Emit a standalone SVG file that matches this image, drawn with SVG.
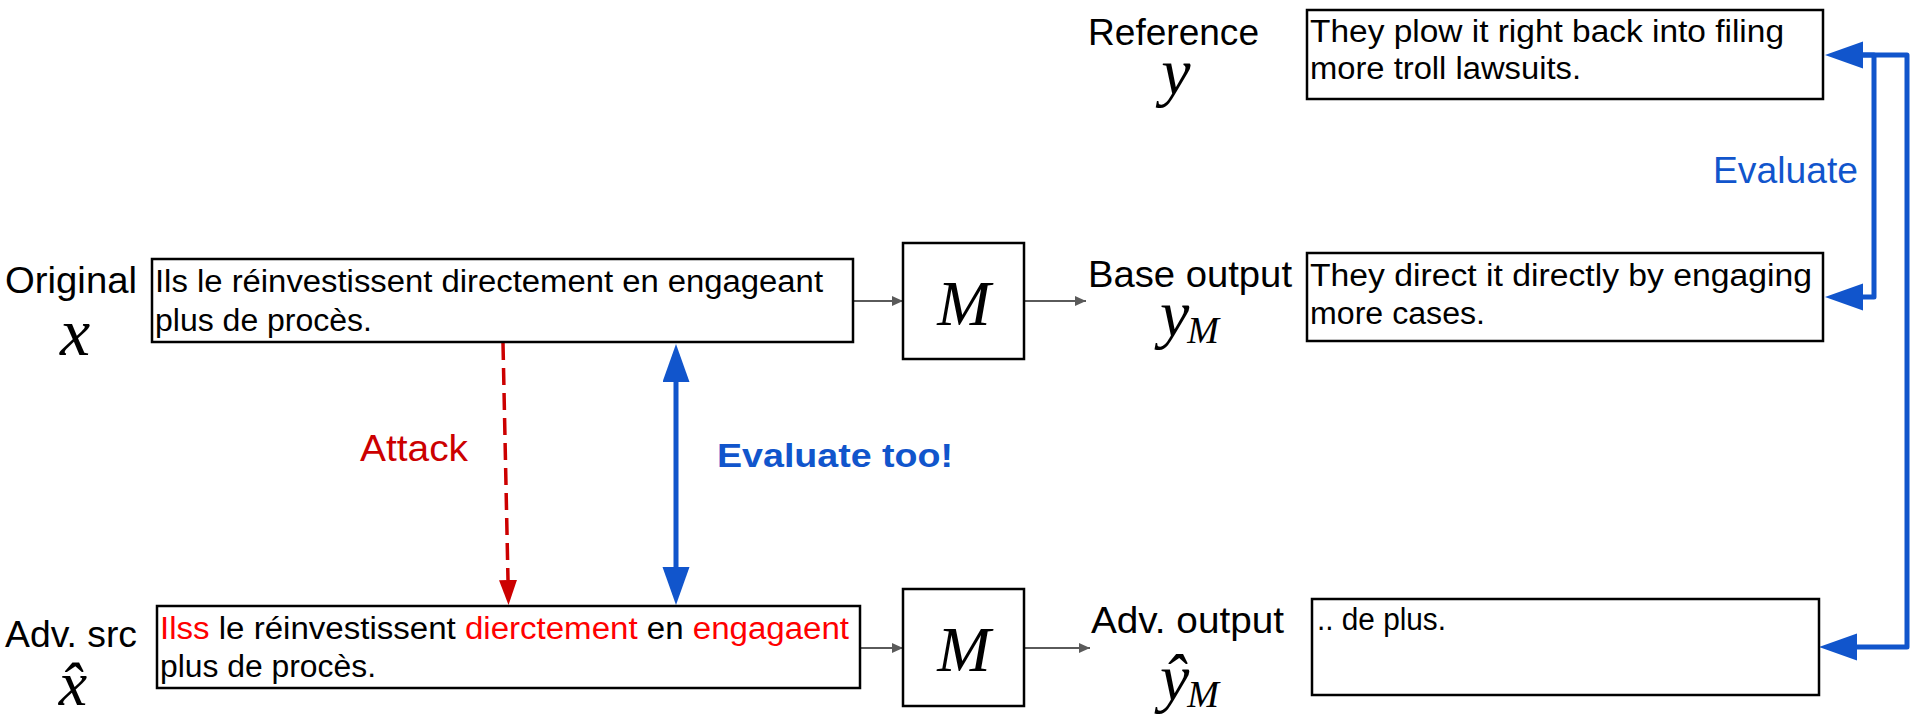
<svg xmlns="http://www.w3.org/2000/svg" width="1913" height="722" viewBox="0 0 1913 722">
<style>
.box{fill:#fff;stroke:#000;stroke-width:2.5}
.lbl{font-family:"Liberation Sans",Arial,sans-serif;font-size:37px;fill:#000}
.txt{font-family:"Liberation Sans",Arial,sans-serif;font-size:31px;fill:#000}
.red{fill:#ff0000}
.math{font-family:"Liberation Serif","Times New Roman",serif;font-style:italic;fill:#000}
.grey{stroke:#5a5a5a;stroke-width:2;fill:none}
.blue{stroke:#1155cc;stroke-width:5;fill:none;stroke-linejoin:round}
</style>
<defs>
<marker id="ag" markerUnits="userSpaceOnUse" markerWidth="12" markerHeight="10" refX="11" refY="5" orient="auto"><path d="M0,0 L11,5 L0,10 z" fill="#5a5a5a"/></marker>
<marker id="ab" markerUnits="userSpaceOnUse" markerWidth="40" markerHeight="28" refX="0" refY="13.5" orient="auto-start-reverse"><path d="M0,0 L38,13.5 L0,27 z" fill="#1155cc"/></marker>
<marker id="ar" markerUnits="userSpaceOnUse" markerWidth="26" markerHeight="20" refX="0" refY="9" orient="auto"><path d="M0,0 L25,9 L0,18 z" fill="#cc0000"/></marker>
</defs>
<rect width="1913" height="722" fill="#fff"/>

<g id="connectors">
<line class="grey" x1="854" y1="301" x2="903" y2="301" marker-end="url(#ag)"/>
<line class="grey" x1="1025" y1="301" x2="1086" y2="301" marker-end="url(#ag)"/>
<line class="grey" x1="861" y1="648" x2="903" y2="648" marker-end="url(#ag)"/>
<line class="grey" x1="1025" y1="648" x2="1090" y2="648" marker-end="url(#ag)"/>
<line x1="503" y1="343" x2="508" y2="580" stroke="#cc0000" stroke-width="3.5" stroke-dasharray="17 8" marker-end="url(#ar)"/>
<line class="blue" x1="676" y1="382" x2="676" y2="567" marker-start="url(#ab)" marker-end="url(#ab)"/>
<path class="blue" d="M1863,55 H1874 V297 H1863" marker-start="url(#ab)" marker-end="url(#ab)"/>
<path class="blue" d="M1863,55 H1907 V647 H1857" marker-end="url(#ab)"/>
</g>

<g id="original">
<text class="lbl" x="5" y="293" textLength="132" lengthAdjust="spacingAndGlyphs">Original</text>
<text class="math" x="75" y="355" font-size="68" text-anchor="middle">x</text>
</g>
<g id="src-box">
<rect class="box" x="152" y="259" width="701" height="83"/>
<text class="txt" x="155" y="292" textLength="668" lengthAdjust="spacingAndGlyphs">Ils le réinvestissent directement en engageant</text>
<text class="txt" x="155" y="331" textLength="217" lengthAdjust="spacingAndGlyphs">plus de procès.</text>
</g>
<g id="model-top">
<rect class="box" x="903" y="243" width="121" height="116"/>
<text class="math" x="964" y="325" font-size="64" text-anchor="middle">M</text>
</g>
<g id="base-output">
<text class="lbl" x="1088" y="287" textLength="204" lengthAdjust="spacingAndGlyphs">Base output</text>
<text class="math" x="1160" y="336" font-size="66">y<tspan font-size="38" dx="-2" dy="7">M</tspan></text>
</g>
<g id="base-box">
<rect class="box" x="1307" y="253" width="516" height="88"/>
<text class="txt" x="1310" y="286" textLength="502" lengthAdjust="spacingAndGlyphs">They direct it directly by engaging</text>
<text class="txt" x="1310" y="324" textLength="175" lengthAdjust="spacingAndGlyphs">more cases.</text>
</g>
<g id="reference">
<text class="lbl" x="1088" y="45" textLength="171" lengthAdjust="spacingAndGlyphs">Reference</text>
<text class="math" x="1176" y="94" font-size="66" text-anchor="middle">y</text>
</g>
<g id="ref-box">
<rect class="box" x="1307" y="10" width="516" height="89"/>
<text class="txt" x="1310" y="42" textLength="474" lengthAdjust="spacingAndGlyphs">They plow it right back into filing</text>
<text class="txt" x="1310" y="79" textLength="271" lengthAdjust="spacingAndGlyphs">more troll lawsuits.</text>
</g>
<g id="evaluate-label">
<text class="lbl" x="1713" y="183" style="fill:#1155cc" textLength="145" lengthAdjust="spacingAndGlyphs">Evaluate</text>
</g>
<g id="attack-label">
<text class="lbl" x="360" y="461" style="fill:#cc0000" textLength="108" lengthAdjust="spacingAndGlyphs">Attack</text>
</g>
<g id="evaluate-too-label">
<text class="lbl" x="717" y="467" style="fill:#1155cc;font-weight:bold;font-size:34px" textLength="236" lengthAdjust="spacingAndGlyphs">Evaluate too!</text>
</g>
<g id="adv-src">
<text class="lbl" x="5" y="647" textLength="132" lengthAdjust="spacingAndGlyphs">Adv. src</text>
<text class="math" x="73" y="705" font-size="64" text-anchor="middle">x̂</text>
</g>
<g id="adv-box">
<rect class="box" x="157" y="606" width="703" height="82"/>
<text class="txt" x="160" y="639" textLength="689" lengthAdjust="spacingAndGlyphs"><tspan class="red">Ilss</tspan> le réinvestissent <tspan class="red">dierctement</tspan> en <tspan class="red">engagaent</tspan></text>
<text class="txt" x="160" y="677" textLength="216" lengthAdjust="spacingAndGlyphs">plus de procès.</text>
</g>
<g id="model-bottom">
<rect class="box" x="903" y="589" width="121" height="117"/>
<text class="math" x="964" y="671" font-size="64" text-anchor="middle">M</text>
</g>
<g id="adv-output">
<text class="lbl" x="1091" y="633" textLength="193" lengthAdjust="spacingAndGlyphs">Adv. output</text>
<text class="math" x="1160" y="700" font-size="66">ŷ<tspan font-size="38" dx="-2" dy="7">M</tspan></text>
</g>
<g id="adv-out-box">
<rect class="box" x="1312" y="599" width="507" height="96"/>
<text class="txt" x="1317" y="630" textLength="129" lengthAdjust="spacingAndGlyphs">.. de plus.</text>
</g>
</svg>
